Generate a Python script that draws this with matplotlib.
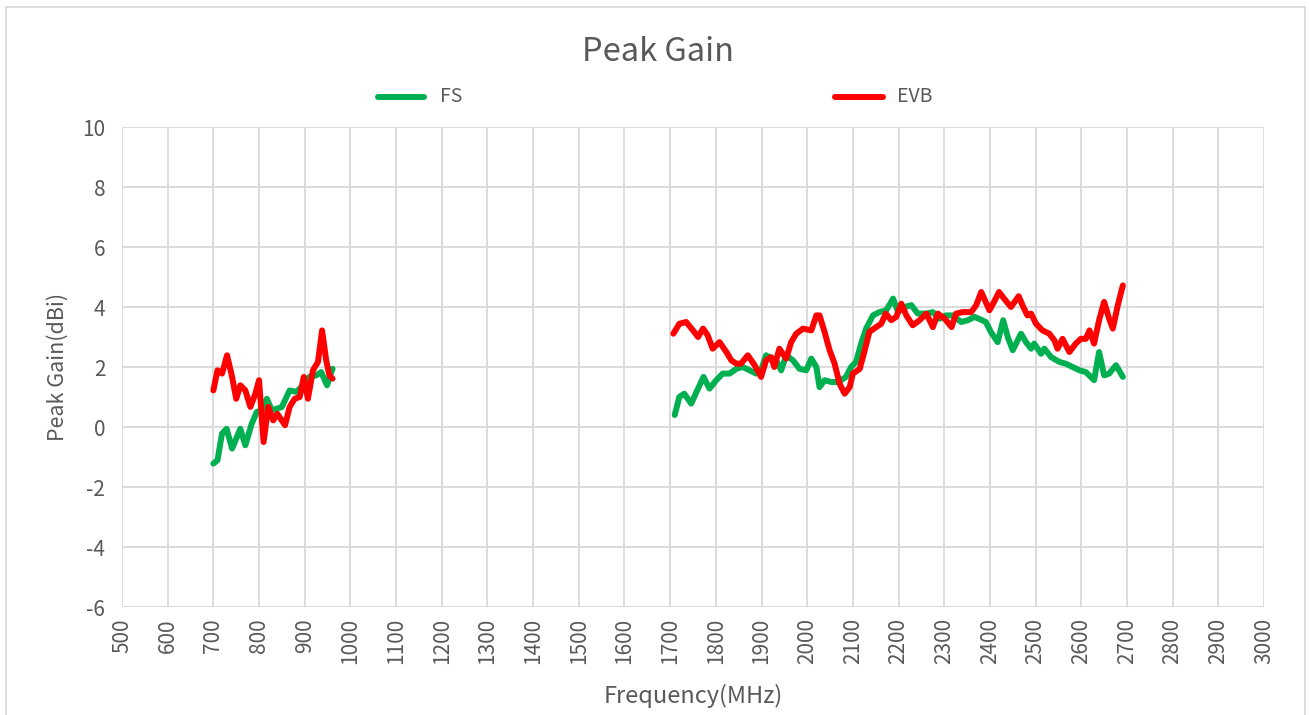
import matplotlib
matplotlib.use("Agg")
import matplotlib.pyplot as plt
from matplotlib.lines import Line2D
from matplotlib.patches import Rectangle

# ---- data ----
fs_low_freq = [700, 709, 719, 729, 741, 759, 770, 784, 795, 806, 817, 828, 839, 850,
               867, 882, 896, 910, 925, 936, 949, 958, 961]
fs_low_gain = [-1.22, -1.11, -0.22, -0.06, -0.72, -0.06, -0.61, 0.11, 0.5, 0.56, 0.94,
               0.56, 0.61, 0.67, 1.22, 1.17, 1.39, 1.67, 1.72, 1.83, 1.39, 1.83, 1.94]

fs_high_freq = [1710, 1720, 1731, 1746, 1761, 1773, 1786, 1801, 1815, 1830, 1845, 1859,
                1874, 1888, 1899, 1910, 1921, 1932, 1943, 1954, 1969, 1983, 1998, 2009,
                2020, 2027, 2038, 2053, 2064, 2074, 2085, 2096, 2107, 2118, 2129, 2144,
                2158, 2173, 2188, 2199, 2213, 2228, 2242, 2261, 2275, 2290, 2304, 2319,
                2337, 2352, 2366, 2377, 2391, 2402, 2417, 2429, 2439, 2450, 2468, 2479,
                2490, 2497, 2512, 2519, 2534, 2552, 2566, 2581, 2596, 2610, 2628, 2639,
                2650, 2661, 2676, 2691]
fs_high_gain = [0.4, 1.0, 1.11, 0.78, 1.28, 1.67, 1.28, 1.56, 1.78, 1.78, 1.94, 2.0,
                1.89, 1.78, 1.89, 2.39, 2.28, 2.22, 1.89, 2.39, 2.22, 1.94, 1.89, 2.28,
                2.0, 1.33, 1.56, 1.5, 1.5, 1.56, 1.67, 2.0, 2.17, 2.78, 3.28, 3.72,
                3.83, 3.89, 4.28, 3.83, 4.0, 4.06, 3.78, 3.78, 3.83, 3.61, 3.72, 3.72,
                3.5, 3.56, 3.67, 3.6, 3.5, 3.17, 2.83, 3.56, 3.0, 2.56, 3.11, 2.83,
                2.61, 2.78, 2.44, 2.61, 2.33, 2.17, 2.11, 2.0, 1.89, 1.83, 1.56, 2.5,
                1.72, 1.78, 2.06, 1.67]

evb_low_freq = [700, 709, 719, 730, 741, 750, 759, 770, 781, 792, 800, 810, 820, 831,
                840, 857, 867, 878, 889, 898, 907, 918, 929, 938, 947, 954, 961]
evb_low_gain = [1.22, 1.89, 1.78, 2.39, 1.67, 0.94, 1.39, 1.22, 0.67, 1.11, 1.56, -0.5,
                0.67, 0.22, 0.44, 0.06, 0.67, 0.94, 1.0, 1.67, 0.94, 1.89, 2.17, 3.22,
                2.22, 1.72, 1.61]

evb_high_freq = [1707, 1720, 1735, 1750, 1761, 1772, 1782, 1793, 1808, 1823, 1834, 1845,
                 1855, 1870, 1885, 1899, 1910, 1921, 1928, 1939, 1954, 1965, 1976, 1991,
                 2009, 2020, 2027, 2038, 2049, 2060, 2071, 2082, 2093, 2100, 2115, 2126,
                 2136, 2151, 2162, 2172, 2184, 2195, 2206, 2217, 2231, 2246, 2261, 2275,
                 2286, 2301, 2316, 2326, 2341, 2359, 2370, 2381, 2399, 2409, 2420, 2431,
                 2446, 2463, 2473, 2482, 2490, 2501, 2515, 2530, 2541, 2548, 2559, 2574,
                 2588, 2599, 2610, 2618, 2628, 2639, 2650, 2661, 2669, 2680, 2691]
evb_high_gain = [3.11, 3.44, 3.5, 3.22, 3.0, 3.28, 3.06, 2.61, 2.83, 2.5, 2.22, 2.11,
                 2.11, 2.39, 2.06, 1.67, 2.22, 2.33, 2.0, 2.61, 2.28, 2.83, 3.11, 3.28,
                 3.22, 3.72, 3.72, 3.17, 2.56, 2.11, 1.44, 1.11, 1.33, 1.78, 1.94, 2.56,
                 3.17, 3.33, 3.44, 3.78, 3.56, 3.67, 4.11, 3.72, 3.39, 3.56, 3.78, 3.33,
                 3.78, 3.61, 3.33, 3.78, 3.83, 3.83, 4.06, 4.5, 3.89, 4.17, 4.5, 4.28,
                 4.0, 4.36, 4.0, 3.72, 3.78, 3.44, 3.22, 3.11, 2.89, 2.61, 2.94, 2.5,
                 2.78, 2.94, 2.94, 3.22, 2.78, 3.56, 4.17, 3.61, 3.28, 4.06, 4.72]

x_ticks = list(range(500, 3001, 100))
y_ticks = list(range(-6, 11, 2))

GREEN = "#00B050"
RED = "#FF0000"
GRID = "#D9D9D9"
TXT = "#595959"

plt.rcParams['font.family'] = ['Noto Sans CJK SC', 'DejaVu Sans']
plt.rcParams['font.weight'] = 'light'

W, H = 1309, 715
fig = plt.figure(figsize=(W / 100, H / 100), dpi=100)
ax = fig.add_axes([122 / W, 1 - 607 / H, (1264 - 122) / W, (607 - 127) / H])

lw = 4.3
kw = dict(linewidth=lw, solid_joinstyle="round", solid_capstyle="round")
ax.plot(fs_low_freq, fs_low_gain, color=GREEN, **kw)
ax.plot(fs_high_freq, fs_high_gain, color=GREEN, **kw)
ax.plot(evb_low_freq, evb_low_gain, color=RED, **kw)
ax.plot(evb_high_freq, evb_high_gain, color=RED, **kw)

ax.set_xlim(500, 3000)
ax.set_ylim(-6, 10)
ax.set_xticks(x_ticks)
ax.set_xticklabels([str(v) for v in x_ticks], rotation=90)
ax.set_yticks(y_ticks)
ax.set_yticklabels([str(v) for v in y_ticks])
ax.grid(True, color=GRID, linewidth=1.3)
ax.set_axisbelow(True)
for s in ax.spines.values():
    s.set_visible(False)
ax.tick_params(length=0, colors=TXT, labelsize=15, pad=8)
ax.tick_params(axis="y", pad=12)

ax.set_xlabel("Frequency(MHz)", fontsize=17, color=TXT, labelpad=14)
ax.set_ylabel("Peak Gain(dBi)", fontsize=15.5, color=TXT, labelpad=10)

fig.text(658 / W, 1 - 52 / H, "Peak Gain", ha="center", va="center",
         fontsize=23.5, color=TXT)

# legend
fig.add_artist(Line2D([378 / W, 424 / W], [1 - 97 / H] * 2, color=GREEN,
                      linewidth=lw, solid_capstyle="round"))
fig.text(440 / W, 1 - 97 / H, "FS", ha="left", va="center", fontsize=14, color=TXT)
fig.add_artist(Line2D([835 / W, 883 / W], [1 - 97 / H] * 2, color=RED,
                      linewidth=lw, solid_capstyle="round"))
fig.text(897 / W, 1 - 97 / H, "EVB", ha="left", va="center", fontsize=14, color=TXT)

# chart border
fig.add_artist(Rectangle((6 / W, -0.01), (1305 - 6) / W, 1 - 7 / H + 0.01,
                         transform=fig.transFigure, fill=False,
                         edgecolor=GRID, linewidth=1.2))

fig.savefig("out.png", dpi=100)
